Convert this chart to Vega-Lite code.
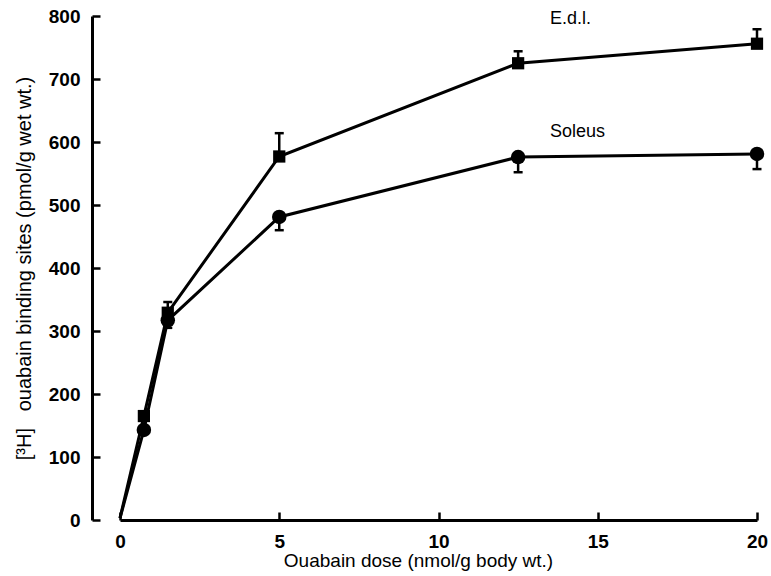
{
  "$schema": "https://vega.github.io/schema/vega-lite/v6.json",
  "width": 637,
  "height": 504,
  "autosize": {"type": "none"},
  "padding": {"left": 120, "top": 16, "right": 14, "bottom": 56},
  "background": "white",
  "config": {
    "view": {"stroke": null},
    "axis": {"grid": false, "domainColor": "black", "tickColor": "black", "labelColor": "black", "titleColor": "black", "labelFont": "Liberation Sans", "titleFont": "Liberation Sans"}
  },
  "data": {
    "values": [
      {"dose": 0, "series": "E.d.l.", "value": 3, "err": null},
      {"dose": 0.75, "series": "E.d.l.", "value": 165, "err": null},
      {"dose": 1.5, "series": "E.d.l.", "value": 329, "err": 346},
      {"dose": 5, "series": "E.d.l.", "value": 577, "err": 614},
      {"dose": 12.5, "series": "E.d.l.", "value": 725, "err": 744},
      {"dose": 20, "series": "E.d.l.", "value": 756, "err": 779},
      {"dose": 0, "series": "Soleus", "value": 3, "err": null},
      {"dose": 0.75, "series": "Soleus", "value": 143, "err": null},
      {"dose": 1.5, "series": "Soleus", "value": 317, "err": 305},
      {"dose": 5, "series": "Soleus", "value": 481, "err": 460},
      {"dose": 12.5, "series": "Soleus", "value": 576, "err": 552},
      {"dose": 20, "series": "Soleus", "value": 581, "err": 557}
    ]
  },
  "layer": [
    {
      "mark": {"type": "line", "color": "black", "strokeWidth": 3},
      "encoding": {
        "x": {
          "field": "dose", "type": "quantitative",
          "scale": {"domain": [0, 20], "nice": false},
          "axis": {"values": [0, 5, 10, 15, 20], "title": "Ouabain dose (nmol/g body wt.)", "titleFontSize": 19, "titleFontWeight": "normal", "titlePadding": 0, "titleX": 298, "titleAnchor": "start", "titleAlign": "center", "labelFontSize": 19, "labelFontWeight": "bold", "tickSize": -8, "tickWidth": 2.5, "domainWidth": 3, "labelPadding": 20, "labelFlush": false}
        },
        "y": {
          "field": "value", "type": "quantitative",
          "scale": {"domain": [0, 800], "nice": false},
          "axis": {"values": [0, 100, 200, 300, 400, 500, 600, 700, 800], "offset": 28, "title": "[³H]\u00a0\u00a0 ouabain binding sites (pmol/g wet wt.)", "titleFontSize": 20, "titleFontWeight": "normal", "titlePadding": 14, "labelFontSize": 19, "labelFontWeight": "bold", "tickSize": -8, "tickWidth": 2.5, "domainWidth": 3, "labelPadding": 20}
        },
        "detail": {"field": "series"}
      }
    },
    {
      "transform": [{"filter": "datum.err != null"}],
      "mark": {"type": "rule", "color": "black", "strokeWidth": 2.5},
      "encoding": {
        "x": {"field": "dose", "type": "quantitative"},
        "y": {"field": "value", "type": "quantitative"},
        "y2": {"field": "err"}
      }
    },
    {
      "transform": [{"filter": "datum.err != null"}],
      "mark": {"type": "tick", "color": "black", "orient": "horizontal", "size": 9, "thickness": 2.5, "opacity": 1},
      "encoding": {
        "x": {"field": "dose", "type": "quantitative"},
        "y": {"field": "err", "type": "quantitative"}
      }
    },
    {
      "transform": [{"filter": "datum.dose > 0"}],
      "mark": {"type": "point", "filled": true, "color": "black", "opacity": 1},
      "encoding": {
        "x": {"field": "dose", "type": "quantitative"},
        "y": {"field": "value", "type": "quantitative"},
        "shape": {"field": "series", "type": "nominal", "scale": {"domain": ["E.d.l.", "Soleus"], "range": ["square", "circle"]}, "legend": null},
        "size": {"field": "series", "type": "nominal", "scale": {"domain": ["E.d.l.", "Soleus"], "range": [150, 210]}, "legend": null}
      }
    },
    {
      "data": {"values": [
        {"dose": 13.5, "value": 795, "label": "E.d.l."},
        {"dose": 13.5, "value": 616, "label": "Soleus"}
      ]},
      "mark": {"type": "text", "align": "left", "baseline": "middle", "font": "Liberation Sans", "fontSize": 18, "color": "black"},
      "encoding": {
        "x": {"field": "dose", "type": "quantitative"},
        "y": {"field": "value", "type": "quantitative"},
        "text": {"field": "label"}
      }
    }
  ]
}
